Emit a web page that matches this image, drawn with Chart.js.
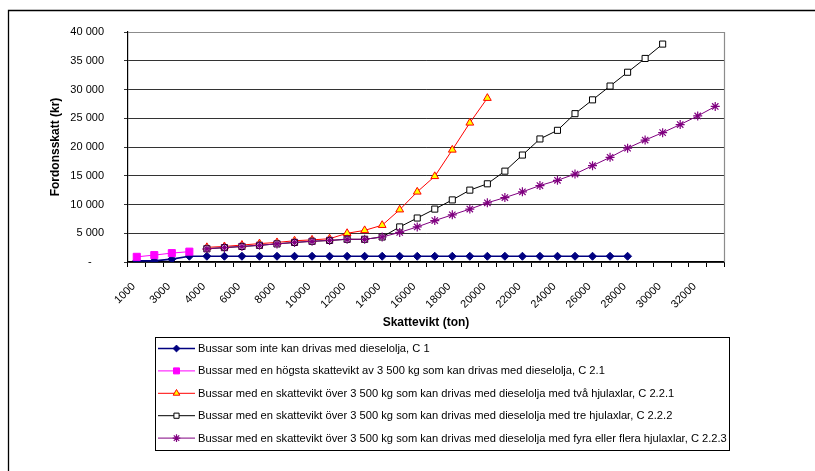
<!DOCTYPE html>
<html>
<head>
<meta charset="utf-8">
<script src="https://cdn.jsdelivr.net/npm/chart.js@4/dist/chart.umd.min.js"></script>
<style>
  html, body { margin: 0; padding: 0; background: #fff; }
  #wrap { position: relative; width: 815px; height: 471px; }
</style>
</head>
<body>
<div id="wrap"><canvas id="c" width="815" height="471"></canvas></div>
<script>
// Skattevikt (kg) per kategori
const categories = [1000, 2000, 3000, 3500, 4000, 5000, 6000, 7000, 8000, 9000, 10000,
  11000, 12000, 13000, 14000, 15000, 16000, 17000, 18000, 19000, 20000,
  21000, 22000, 23000, 24000, 25000, 26000, 27000, 28000, 29000, 30000,
  31000, 32000, 33000];

// Fordonsskatt (kr)
const c1 = [200, 200, 500, 1000, 1000, 1000, 1000, 1000, 1000, 1000, 1000,
  1000, 1000, 1000, 1000, 1000, 1000, 1000, 1000, 1000, 1000,
  1000, 1000, 1000, 1000, 1000, 1000, 1000, 1000, null, null,
  null, null, null];

const c21 = [900, 1200, 1550, 1800, null, null, null, null, null, null, null,
  null, null, null, null, null, null, null, null, null, null,
  null, null, null, null, null, null, null, null, null, null,
  null, null, null];

const c221 = [null, null, null, null, 2550, 2700, 2950, 3200, 3400, 3700, 3850,
  4050, 5000, 5500, 6400, 9100, 12200, 14900, 19500, 24200, 28500,
  null, null, null, null, null, null, null, null, null, null,
  null, null, null];

const c222 = [null, null, null, null, 2300, 2500, 2700, 2900, 3150, 3400, 3600,
  3750, 3950, 3950, 4350, 6100, 7650, 9200, 10800, 12500, 13600,
  15800, 18600, 21400, 22900, 25800, 28200, 30600, 33000, 35400, 37900,
  null, null, null];

const c223 = [null, null, null, null, 2300, 2500, 2700, 2900, 3150, 3400, 3600,
  3750, 3950, 3950, 4350, 5150, 6100, 7200, 8200, 9200, 10300,
  11200, 12200, 13300, 14200, 15300, 16750, 18200, 19800, 21200, 22500,
  23900, 25400, 27050];

const seriesNames = [
  'Bussar som inte kan drivas med dieselolja, C 1',
  'Bussar med en högsta skattevikt av 3 500 kg som kan drivas med dieselolja, C 2.1',
  'Bussar med en skattevikt över 3 500 kg som kan drivas med dieselolja med två hjulaxlar, C 2.2.1',
  'Bussar med en skattevikt över 3 500 kg som kan drivas med dieselolja med tre hjulaxlar, C 2.2.2',
  'Bussar med en skattevikt över 3 500 kg som kan drivas med dieselolja med fyra eller flera hjulaxlar, C 2.2.3'
];

const yTicks = [0, 5000, 10000, 15000, 20000, 25000, 30000, 35000, 40000];

const FONT = '"Liberation Sans", Arial, sans-serif';

function fmtKr(v) {
  if (v === 0) return '-    ';
  return String(v).replace(/\B(?=(\d{3})+(?!\d))/g, ' ');
}

const datasets = [
  { label: seriesNames[0], data: c1, borderColor: '#000080', backgroundColor: '#000080',
    borderWidth: 1.6, pointStyle: 'rectRot', pointRadius: 4, pointBackgroundColor: '#000080',
    pointBorderColor: '#000080', pointBorderWidth: 1, order: 4 },
  { label: seriesNames[1], data: c21, borderColor: '#FF00FF', backgroundColor: '#FF00FF',
    borderWidth: 1, pointStyle: 'rect', pointRadius: 5, pointBackgroundColor: '#FF00FF',
    pointBorderColor: '#FF00FF', pointBorderWidth: 1, order: 3 },
  { label: seriesNames[2], data: c221, borderColor: '#FF0000', backgroundColor: '#FFFF00',
    borderWidth: 1, pointStyle: 'triangle', pointRadius: 4.5, pointBackgroundColor: '#FFFF00',
    pointBorderColor: '#FF0000', pointBorderWidth: 1, order: 2 },
  { label: seriesNames[3], data: c222, borderColor: '#000000', backgroundColor: '#FFFFFF',
    borderWidth: 1, pointStyle: 'rect', pointRadius: 4.3, pointBackgroundColor: '#FFFFFF',
    pointBorderColor: '#000000', pointBorderWidth: 1, order: 1 },
  { label: seriesNames[4], data: c223, borderColor: '#800080', backgroundColor: '#800080',
    borderWidth: 1, pointStyle: 'star', pointRadius: 4.5, pointBackgroundColor: '#800080',
    pointBorderColor: '#800080', pointBorderWidth: 1.2, order: 0 }
];

// Frame, plot-area outline and the boxed legend
const decor = {
  id: 'decor',
  beforeDraw(chart) {
    const ctx = chart.ctx;
    ctx.save();
    ctx.strokeStyle = '#000';
    ctx.lineWidth = 1.3;
    ctx.beginPath();
    ctx.moveTo(8.5, 471);
    ctx.lineTo(8.5, 10.5);
    ctx.lineTo(815, 10.5);
    ctx.stroke();
    ctx.restore();
  },
  beforeDatasetsDraw(chart) {
    const { ctx, chartArea: a } = chart;
    ctx.save();
    ctx.strokeStyle = '#8c8c8c';
    ctx.lineWidth = 1.2;
    ctx.beginPath();
    ctx.moveTo(a.left, a.top + 0.5);
    ctx.lineTo(a.right + 0.5, a.top + 0.5);
    ctx.lineTo(a.right + 0.5, a.bottom);
    ctx.stroke();
    ctx.restore();
  },
  afterDraw(chart) {
    const ctx = chart.ctx;
    const bx = 155.5, by = 337.5, bw = 574, bh = 113;
    ctx.save();
    ctx.strokeStyle = '#000';
    ctx.lineWidth = 1;
    ctx.strokeRect(bx, by, bw, bh);
    ctx.font = '11.15px ' + FONT;
    ctx.textBaseline = 'middle';
    ctx.textAlign = 'left';
    chart.data.datasets.forEach((ds, i) => {
      const y = 348.5 + i * 22.4;
      ctx.strokeStyle = ds.borderColor;
      ctx.lineWidth = ds.borderWidth;
      ctx.beginPath();
      ctx.moveTo(158, y);
      ctx.lineTo(195, y);
      ctx.stroke();
      ctx.fillStyle = ds.pointBackgroundColor;
      ctx.strokeStyle = ds.pointBorderColor;
      ctx.lineWidth = ds.pointBorderWidth;
      Chart.helpers.drawPoint(ctx, {
        pointStyle: ds.pointStyle, radius: ds.pointRadius * 0.85, rotation: 0,
        borderWidth: ds.pointBorderWidth
      }, 176.5, y);
      ctx.fillStyle = '#000';
      ctx.fillText(ds.label, 198, y + 0.5);
    });
    ctx.restore();
  }
};

new Chart(document.getElementById('c'), {
  type: 'line',
  data: { labels: categories.map(String), datasets },
  options: {
    responsive: false,
    animation: false,
    devicePixelRatio: 1,
    layout: { padding: { left: 48, right: 91, top: 32, bottom: 138 } },
    plugins: { legend: { display: false }, tooltip: { enabled: false } },
    elements: { line: { tension: 0, spanGaps: false } },
    scales: {
      x: {
        type: 'category',
        offset: true,
        afterFit(s) { s.height = 71; },
        grid: { offset: true, drawOnChartArea: false, drawTicks: true, tickLength: 5, color: '#000', lineWidth: 1 },
        border: { color: '#000', width: 1.2 },
        ticks: {
          autoSkip: false, maxRotation: 45, minRotation: 45, padding: 13, labelOffset: -3,
          color: '#000', font: { family: FONT, size: 11 },
          callback: (v, i) => (i % 2 === 0 ? String(categories[i]) : '')
        },
        title: { display: true, text: 'Skattevikt (ton)', color: '#000',
          font: { family: FONT, size: 12, weight: 'bold' }, padding: { top: 0, bottom: 3 } }
      },
      y: {
        min: 0, max: 40000,
        afterFit(s) { s.width = 80; },
        afterBuildTicks(s) { s.ticks = yTicks.map(v => ({ value: v })); },
        grid: { color: '#333', lineWidth: 1, drawTicks: true, tickLength: 4 },
        border: { color: '#000', width: 1.2 },
        ticks: { padding: 20, color: '#000', font: { family: FONT, size: 11 }, callback: v => fmtKr(v) },
        title: { display: true, text: 'Fordonsskatt (kr)', color: '#000',
          font: { family: FONT, size: 12, weight: 'bold' }, padding: { top: 0, bottom: 0 } }
      }
    }
  },
  plugins: [decor]
});
</script>
</body>
</html>
